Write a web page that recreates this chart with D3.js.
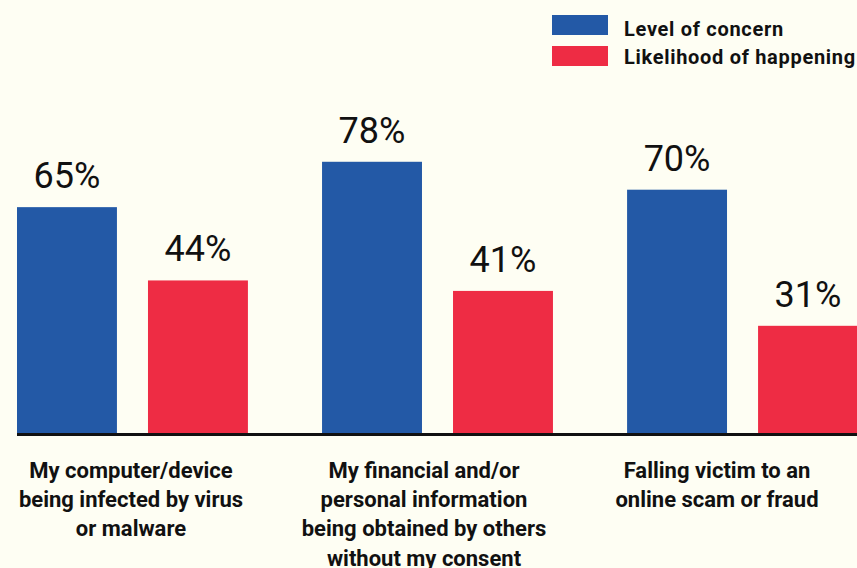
<!DOCTYPE html>
<html>
<head>
<meta charset="utf-8">
<script src="https://cdn.jsdelivr.net/npm/d3@7"></script>
<style>
  body { margin: 0; background: #fefef3; }
  svg { display: block; }
  .value-label { font-family: Roboto, "Noto Sans", sans-serif; font-size: 36px; fill: #111; }
  .cat-label { font-family: Roboto, "Noto Sans", sans-serif; font-weight: bold; font-size: 22px; fill: #111; }
  .legend-label { font-family: Roboto, "Noto Sans", sans-serif; font-weight: bold; font-size: 20px; letter-spacing: 0.7px; fill: #111; }
</style>
</head>
<body>
<div id="chart"></div>
<script>
const categories = ["computer", "personal", "scam"];
const categoryLines = [
    ["My computer/device", "being infected by virus", "or malware"],
    ["My financial and/or", "personal information", "being obtained by others", "without my consent"],
    ["Falling victim to an", "online scam or fraud"]
];
const seriesNames = ["Level of concern", "Likelihood of happening"];
const concern = [65, 78, 70];
const likelihood = [44, 41, 31];
const colors = ["#2359a6", "#ee2c44"];

const width = 857, height = 568;
const baseY = 434;

const svg = d3.select("#chart").append("svg")
    .attr("width", width)
    .attr("height", height);

svg.append("rect").attr("width", width).attr("height", height).attr("fill", "#fefef3");

// Scales
const x0 = d3.scaleBand().domain(categories).range([17, 858]).paddingInner(0.243).paddingOuter(0);
const x1 = d3.scaleBand().domain(seriesNames).range([0, x0.bandwidth()]).paddingInner(0.237).paddingOuter(0);
const y = d3.scaleLinear().domain([0, 100]).range([baseY, 85]);
const labelX = d3.scalePoint().domain(categories).range([131, 717]);
const color = d3.scaleOrdinal().domain(seriesNames).range(colors);

const rows = [];
categories.forEach((c, i) => {
    rows.push({ cat: c, series: seriesNames[0], value: concern[i] });
    rows.push({ cat: c, series: seriesNames[1], value: likelihood[i] });
});

// Bars
svg.selectAll(".bar")
    .data(rows)
    .join("rect")
    .attr("class", "bar")
    .attr("x", d => x0(d.cat) + x1(d.series))
    .attr("width", x1.bandwidth())
    .attr("y", d => y(d.value))
    .attr("height", d => y(0) - y(d.value))
    .attr("fill", d => color(d.series));

// Value labels
svg.selectAll(".value-label")
    .data(rows)
    .join("text")
    .attr("class", "value-label")
    .attr("x", d => x0(d.cat) + x1(d.series) + x1.bandwidth() / 2)
    .attr("y", d => y(d.value) - 19)
    .attr("text-anchor", "middle")
    .text(d => d.value + "%");

// Baseline
svg.append("line")
    .attr("x1", 17).attr("x2", width)
    .attr("y1", baseY + 0.5).attr("y2", baseY + 0.5)
    .attr("stroke", "#111")
    .attr("stroke-width", 3);

// Category labels
const catG = svg.selectAll(".cat")
    .data(categories)
    .join("text")
    .attr("class", "cat-label")
    .attr("text-anchor", "middle");

catG.selectAll("tspan")
    .data((d, i) => categoryLines[i].map(t => ({ t, cat: d })))
    .join("tspan")
    .attr("x", d => labelX(d.cat))
    .attr("y", (d, i) => 478 + i * 29.2)
    .text(d => d.t);

// Legend
const legend = svg.append("g").attr("transform", "translate(552,15)");
seriesNames.forEach((s, i) => {
    legend.append("rect")
        .attr("x", 0).attr("y", i * 31)
        .attr("width", 56).attr("height", 20)
        .attr("fill", color(s));
    legend.append("text")
        .attr("class", "legend-label")
        .attr("x", 72).attr("y", 21 + i * 28)
        .text(s);
});
</script>
</body>
</html>
